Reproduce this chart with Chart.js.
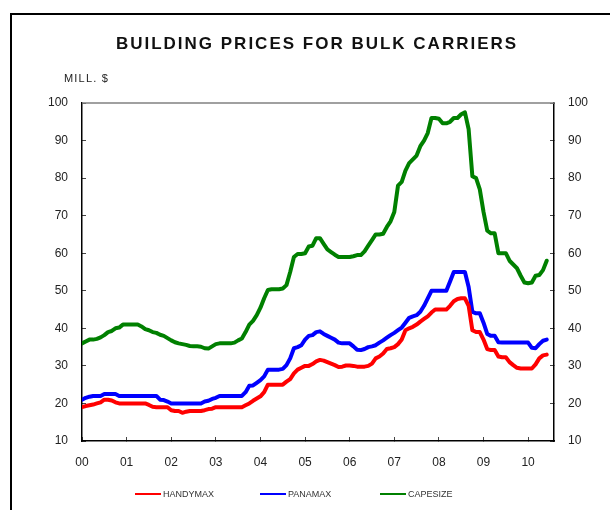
<!DOCTYPE html>
<html><head><meta charset="utf-8">
<script src="https://cdn.jsdelivr.net/npm/chart.js@4.4.0/dist/chart.umd.min.js"></script>
<style>html,body{margin:0;padding:0;background:#fff;}canvas{display:block;}</style>
</head><body>
<canvas id="c" width="610" height="510"></canvas>
<script>
const chartTitle = 'BUILDING PRICES FOR BULK CARRIERS';
const unitLabel = 'MILL. $';
const seriesNames = ['HANDYMAX', 'PANAMAX', 'CAPESIZE'];
const seriesColors = ['#ff0000', '#0000ff', '#008000'];
const xTickLabels = ['00','01','02','03','04','05','06','07','08','09','10'];
const yTickValues = [10,20,30,40,50,60,70,80,90,100];
// monthly values, Jan 2000 .. Jun 2010
const handymax = [
  19, 19.3, 19.5, 19.7, 20, 20.3, 21, 21, 20.8, 20.3,
  20, 20, 20, 20, 20, 20, 20, 20, 19.6, 19.1,
  19, 19, 19, 19, 18.2, 18, 18, 17.5, 17.8, 18,
  18, 18, 18, 18.2, 18.5, 18.6, 19, 19, 19, 19,
  19, 19, 19, 19, 19.5, 20, 20.7, 21.3, 21.9, 23,
  25, 25, 25, 25, 25, 25.8, 26.5, 28, 29, 29.5,
  30, 30, 30.5, 31.2, 31.6, 31.4, 31, 30.6, 30.2, 29.7,
  29.8, 30.1, 30.1, 30, 29.8, 29.8, 29.8, 30, 30.6, 32,
  32.5, 33.3, 34.5, 34.7, 35, 35.8, 37, 39.5, 40, 40.4,
  41, 41.8, 42.5, 43.2, 44.2, 45, 45, 45, 45, 46,
  47.2, 47.8, 48, 48, 46, 39.5, 39, 39, 37, 34.5,
  34.2, 34.2, 32.5, 32.3, 32.3, 31, 30.2, 29.5, 29.3, 29.3,
  29.3, 29.3, 30.4, 32, 32.8, 33
];
const panamax = [
  21, 21.5, 21.8, 22, 22, 22, 22.5, 22.5, 22.5, 22.5,
  22, 22, 22, 22, 22, 22, 22, 22, 22, 22,
  22, 21, 20.9, 20.5, 20, 20, 20, 20, 20, 20,
  20, 20, 20, 20.5, 20.7, 21.2, 21.5, 22, 22, 22,
  22, 22, 22, 22, 23, 24.7, 24.8, 25.5, 26.2, 27.2,
  29, 29, 29, 29, 29.2, 30.2, 32, 34.7, 35, 35.5,
  37, 38, 38.2, 39, 39.2, 38.5, 38, 37.5, 37, 36.2,
  36, 36, 36, 35.2, 34.3, 34.2, 34.5, 35, 35.2, 35.5,
  36.2, 36.8, 37.5, 38.2, 38.8, 39.5, 40.2, 41.5, 42.8, 43.2,
  43.5, 44.4, 46, 48, 50, 50, 50, 50, 50, 52.5,
  55, 55, 55, 55, 51, 44.4, 44, 44, 41.5, 38.5,
  38, 38, 36.3, 36.2, 36.2, 36.2, 36.2, 36.2, 36.2, 36.2,
  36.2, 34.8, 34.7, 35.8, 36.7, 37
];
const capesize = [
  36, 36.5, 37, 37, 37.2, 37.6, 38.2, 39, 39.3, 40,
  40.2, 41, 41, 41, 41, 41, 40.5, 39.8, 39.5, 39,
  38.8, 38.3, 38, 37.4, 36.8, 36.3, 36, 35.8, 35.6, 35.3,
  35.2, 35.2, 35.1, 34.7, 34.6, 35.2, 35.8, 36, 36, 36,
  36, 36.2, 36.8, 37.3, 39, 41, 42, 43.5, 45.5, 48,
  50.2, 50.4, 50.4, 50.4, 50.6, 51.5, 55, 59, 59.8, 59.8,
  60, 61.8, 62, 64, 64, 62.5, 61, 60.3, 59.6, 59,
  59, 59, 59, 59.2, 59.5, 59.5, 60.5, 62, 63.5, 65,
  65, 65.2, 67, 68.5, 71, 78, 79, 82, 84, 85,
  86, 88.5, 90, 92, 96, 96, 95.8, 94.6, 94.6, 95,
  96, 96, 97, 97.5, 93, 80.5, 80, 77, 71, 66,
  65.3, 65.3, 60, 60, 60, 58, 57, 56, 54, 52.2,
  52, 52.2, 54, 54.2, 55.5, 58
];
const seriesValues = [handymax, panamax, capesize];

const FONT = "'Liberation Sans', Arial, sans-serif";

const decorPlugin = {
  id: 'decor',
  afterDraw(chart) {
    const ctx = chart.ctx;
    const a = chart.chartArea;
    ctx.save();
    // outer frame (left and top)
    ctx.strokeStyle = '#000';
    ctx.lineWidth = 2;
    ctx.beginPath();
    ctx.moveTo(11, 510); ctx.lineTo(11, 14); ctx.lineTo(610, 14);
    ctx.stroke();
    // top border of plot
    ctx.strokeStyle = '#808080';
    ctx.lineWidth = 1.5;
    ctx.beginPath();
    ctx.moveTo(a.left, a.top); ctx.lineTo(a.right, a.top);
    ctx.stroke();
    // title
    ctx.fillStyle = '#111';
    ctx.font = 'bold 17px ' + FONT;
    if ('letterSpacing' in ctx) ctx.letterSpacing = '2px';
    ctx.textAlign = 'center';
    ctx.textBaseline = 'middle';
    ctx.fillText(chartTitle, 317, 44);
    // unit label
    ctx.font = '11px ' + FONT;
    if ('letterSpacing' in ctx) ctx.letterSpacing = '1.2px';
    ctx.fillStyle = '#222';
    ctx.textAlign = 'left';
    ctx.fillText(unitLabel, 64, 79);
    if ('letterSpacing' in ctx) ctx.letterSpacing = '0px';
    // legend
    const starts = [135, 260, 380];
    ctx.font = '9px ' + FONT;
    chart.data.datasets.forEach((ds, i) => {
      const x = starts[i];
      const y = 494;
      ctx.strokeStyle = ds.borderColor;
      ctx.lineWidth = 2;
      ctx.beginPath();
      ctx.moveTo(x, y); ctx.lineTo(x + 26, y);
      ctx.stroke();
      ctx.fillStyle = '#333';
      ctx.textAlign = 'left';
      ctx.textBaseline = 'middle';
      ctx.fillText(ds.label, x + 28, y + 0.5);
    });
    ctx.restore();
  }
};

const yAxisCommon = (pos, width) => ({
  type: 'linear',
  position: pos,
  min: 10, max: 100,
  afterBuildTicks(scale) { scale.ticks = yTickValues.map(v => ({value: v})); },
  afterFit(scale) { scale.width = width; },
  grid: { display: true, drawOnChartArea: false, drawTicks: true, tickLength: -4, color: '#444', lineWidth: 1 },
  border: { display: true, color: '#000', width: 1.5 },
  ticks: { padding: 18, color: '#222', font: { family: FONT, size: 12 } }
});

new Chart(document.getElementById('c'), {
  type: 'line',
  data: {
    datasets: seriesValues.map((vals, i) => ({
      label: seriesNames[i],
      data: vals.map((v, m) => ({ x: m / 12, y: v })),
      borderColor: seriesColors[i],
      backgroundColor: seriesColors[i],
      borderWidth: 4,
      pointRadius: 0,
      tension: 0,
      borderJoinStyle: 'round',
      borderCapStyle: 'round',
      fill: false,
      yAxisID: 'y'
    }))
  },
  options: {
    responsive: false,
    animation: false,
    devicePixelRatio: 1,
    layout: { padding: { top: 103, bottom: 39, left: 0, right: 0 } },
    plugins: { legend: { display: false }, title: { display: false }, tooltip: { enabled: false } },
    scales: {
      x: {
        type: 'linear',
        min: 0, max: 10.58,
        afterBuildTicks(scale) { scale.ticks = xTickLabels.map((t, i) => ({value: i})); },
        afterFit(scale) { scale.height = 30; },
        grid: { display: true, drawOnChartArea: false, drawTicks: true, tickLength: -4, color: '#444', lineWidth: 1 },
        border: { display: true, color: '#000', width: 1.5 },
        ticks: {
          padding: 18, color: '#222', font: { family: FONT, size: 12 },
          maxRotation: 0, autoSkip: false,
          callback: (v) => xTickLabels[Math.round(v)]
        }
      },
      y: yAxisCommon('left', 82),
      y2: yAxisCommon('right', 56)
    }
  },
  plugins: [decorPlugin]
});
</script>
</body></html>
